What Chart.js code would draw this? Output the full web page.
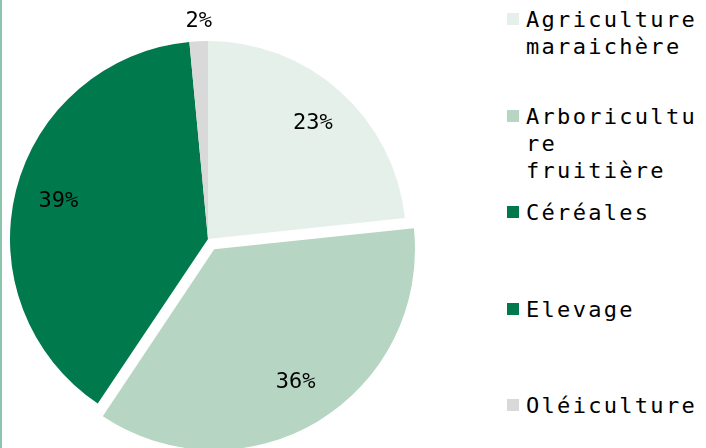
<!DOCTYPE html>
<html>
<head>
<meta charset="utf-8">
<script src="https://cdn.jsdelivr.net/npm/chart.js@4.4.0/dist/chart.umd.min.js"></script>
<style>
  html, body { margin: 0; padding: 0; background: #fff; }
  #wrap { position: relative; width: 706px; height: 448px; overflow: hidden; }
  #edge { position: absolute; left: 0; top: 0; width: 2px; height: 448px; background: #8cc5ad; }
  #box { position: absolute; left: 0; top: 0; width: 420px; height: 448px; }
  #legend { position: absolute; left: 507px; top: 0; }
  .item { position: absolute; left: 0; width: 200px; }
  .sw { position: absolute; left: 0; top: 7px; width: 12px; height: 12px; }
  .txt { position: absolute; left: 19px; width: 176px;
         font-family: "DejaVu Sans Mono", monospace; font-size: 22px; letter-spacing: 2.3px;
         line-height: 27px; color: #000; overflow-wrap: break-word; }
</style>
</head>
<body>
<div id="wrap">
  <div id="edge"></div>
  <div id="box"><canvas id="pie"></canvas></div>
  <div id="legend"></div>
</div>
<script>
// données
const categories = ['Agriculture maraichère', 'Arboriculture fruitière', 'Céréales', 'Elevage', 'Oléiculture'];
const shares = [23.3, 36.1, 39.1, 0, 1.5];
const colors = ['#e6f0eb', '#b7d5c3', '#007a4c', '#007a4c', '#d9d9d9'];

const total = shares.reduce((a, b) => a + b, 0);

// étiquettes de pourcentage
const pctLabels = {
    id: 'pctLabels',
    afterDatasetsDraw(chart) {
        const ctx = chart.ctx;
        const meta = chart.getDatasetMeta(0);
        const offsets = chart.data.datasets[0].offset;
        ctx.save();
        ctx.font = '22px "DejaVu Sans Mono", monospace';
        ctx.fillStyle = '#000';
        ctx.textAlign = 'center';
        ctx.textBaseline = 'middle';
        meta.data.forEach((arc, i) => {
            const v = shares[i];
            if (!v) return;
            const pct = Math.round(v / total * 100);
            const mid = (arc.startAngle + arc.endAngle) / 2;
            // chart.js déplace l'arc de offset/4
            const r = pct < 5 ? arc.outerRadius + 20 : arc.outerRadius * 0.785 + offsets[i] / 4;
            ctx.fillText(pct + '%', arc.x + Math.cos(mid) * r + 1, arc.y + Math.sin(mid) * r);
        });
        ctx.restore();
    }
};

new Chart(document.getElementById('pie').getContext('2d'), {
    type: 'pie',
    data: {
        labels: categories,
        datasets: [{
            data: shares,
            backgroundColor: colors,
            borderWidth: 0,
            offset: [0, 48, 0, 0, 0],
            hoverOffset: 0,
            radius: 198
        }]
    },
    options: {
        responsive: true,
        maintainAspectRatio: false,
        animation: false,
        layout: { padding: { left: 0, right: 4, top: 30, bottom: 0 } },
        plugins: {
            legend: { display: false },
            tooltip: { enabled: false }
        }
    },
    plugins: [pctLabels]
});

// légende à droite
const legend = document.getElementById('legend');
categories.forEach((name, i) => {
    const item = document.createElement('div');
    item.className = 'item';
    item.style.top = (6 + i * 96.5) + 'px';
    item.innerHTML = '<div class="sw" style="background:' + colors[i] + '"></div><div class="txt"></div>';
    item.querySelector('.txt').textContent = name;
    legend.appendChild(item);
});
</script>
</body>
</html>
